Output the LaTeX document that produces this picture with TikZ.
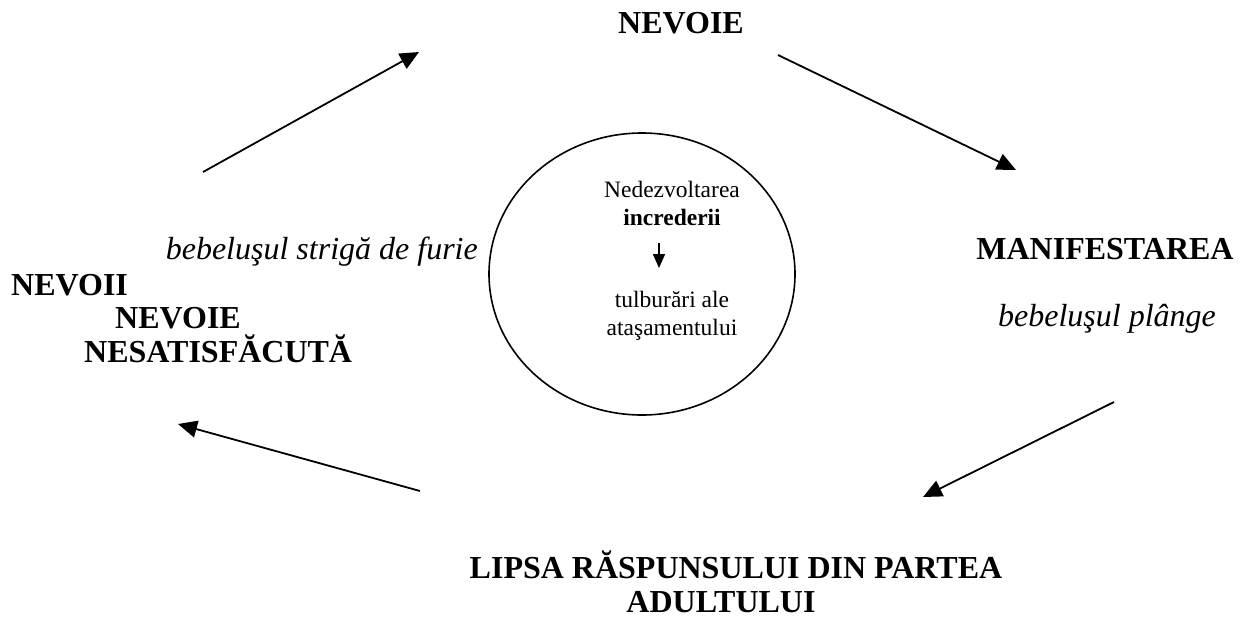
\documentclass[tikz,border=0pt]{standalone}
\usepackage{fontspec}
\setmainfont{Liberation Serif}
\usetikzlibrary{arrows.meta,shapes.geometric}
\begin{document}
\begin{tikzpicture}[x=1pt,y=-1pt,
  big/.style={font=\fontsize{32}{36}\selectfont\bfseries, inner sep=0pt},
  ital/.style={font=\fontsize{32}{36}\selectfont\itshape, inner sep=0pt},
  small/.style={font=\fontsize{23.5}{27}\selectfont, inner sep=0pt},
  conn/.style={line width=1.8pt, -{Triangle[length=19pt,width=17pt]}},
  sconn/.style={line width=1.6pt, -{Triangle[length=14pt,width=12pt]}}]
\useasboundingbox (0,0) rectangle (1243,630);
% texts
\node[big, anchor=base] (top) at (681,33) {NEVOIE};
\node[big, anchor=base] (man) at (1105,259) {MANIFESTAREA};
\node[ital, anchor=base] (plange) at (1107,326) {bebelu\c{s}ul pl\^ange};
\node[ital, anchor=base east] (furie) at (478,259) {bebelu\c{s}ul strig\u{a} de furie};
\node[big, anchor=base west] (nevoii) at (11,295) {NEVOII};
\node[big, anchor=base west] (nevoie2) at (115,328) {NEVOIE};
\node[big, anchor=base west] (nesat) at (84,362) {NESATISF\u{A}CUT\u{A}};
\node[big, anchor=base] (lipsa) at (736,578) {LIPSA R\u{A}SPUNSULUI DIN PARTEA};
\node[big, anchor=base] (adult) at (721,612) {ADULTULUI};
% ellipse
\node[draw, ellipse, line width=1.6pt, minimum width=306pt, minimum height=282pt, inner sep=0pt] (ell) at (642,274) {};
\node[small, anchor=base] (ned) at (672,197) {Nedezvoltarea};
\node[small, anchor=base, font=\fontsize{23.5}{27}\selectfont\bfseries] (incr) at (672,225) {increderii};
\node[small, anchor=base] (tulb) at (672,307) {tulbur\u{a}ri ale};
\node[small, anchor=base] (atas) at (672,335) {ata\c{s}amentului};
\coordinate (ia) at (659,243);
\coordinate (ib) at (659,268);
\draw[sconn] (ia) -- (ib);
% arrows
\coordinate (a1s) at (203,172);
\coordinate (a1e) at (419,52);
\coordinate (a2s) at (778,55);
\coordinate (a2e) at (1016,170);
\coordinate (a3s) at (1114,402);
\coordinate (a3e) at (923,497);
\coordinate (a4s) at (420,491);
\coordinate (a4e) at (178,424);
\draw[conn] (a1s) -- (a1e);
\draw[conn] (a2s) -- (a2e);
\draw[conn] (a3s) -- (a3e);
\draw[conn] (a4s) -- (a4e);
\end{tikzpicture}
\end{document}
